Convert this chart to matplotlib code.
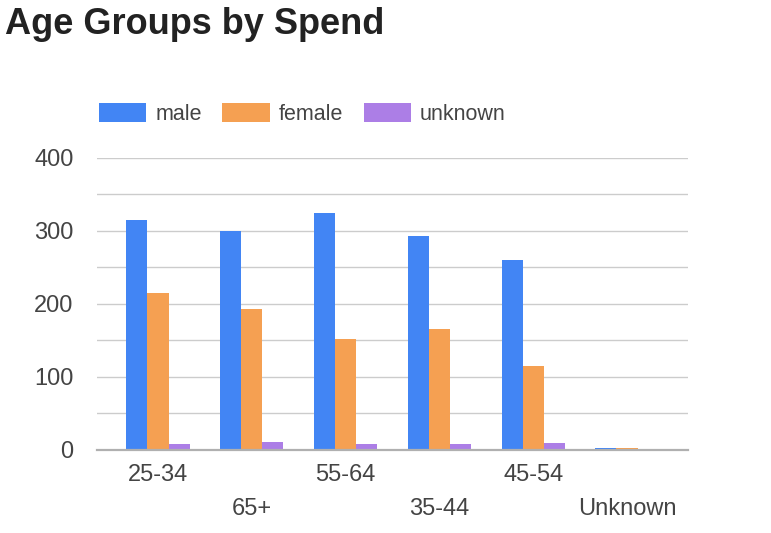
import numpy as np
import matplotlib
matplotlib.use("Agg")
import matplotlib.pyplot as plt

plt.rcParams['font.family'] = ['Liberation Sans', 'DejaVu Sans']

# 数据
groups = ['25-34', '65+', '55-64', '35-44', '45-54', 'Unknown']
male = [314, 299, 324, 292, 260, 2]
female = [215, 192, 152, 165, 115, 2]
unknown = [8, 10, 8, 8, 9, 0]
series = [('male', male, '#4285F4'), ('female', female, '#F5A052'), ('unknown', unknown, '#AC7EE6')]

fig = plt.figure(figsize=(7.71, 5.33), dpi=100)
ax = fig.add_axes([97 / 771, (533 - 449.5) / 533, (688 - 97) / 771, (449.5 - 157.5) / 533])

x = np.arange(len(groups))
w = 0.225
for k, (name, vals, col) in enumerate(series):
    ax.bar(x + (k - 1) * w, vals, w, color=col, label=name, linewidth=0, zorder=3)

ax.set_xlim(-0.65, len(groups) - 0.35)
ax.set_ylim(0, 400)
ax.set_yticks(range(0, 401, 100))
ax.set_yticks(range(0, 401, 50), minor=True)
ax.grid(axis='y', which='both', color='#cccccc', linewidth=1.0, zorder=0)

# x 标签交错两行
ax.set_xticks(x[::2], [groups[i] for i in x[::2]])
ax.set_xticks(x[1::2], [groups[i] for i in x[1::2]], minor=True)
ax.tick_params(axis='x', which='major', length=0, pad=10.5, labelsize=17, labelcolor='#444444')
ax.tick_params(axis='x', which='minor', length=0, pad=35, labelsize=17, labelcolor='#444444')
ax.tick_params(axis='y', which='both', length=0, pad=17, labelsize=17, labelcolor='#444444')

for s in ['top', 'right', 'left']:
    ax.spines[s].set_visible(False)
ax.spines['bottom'].set_color('#b0b0b0')
ax.spines['bottom'].set_linewidth(1.6)
ax.spines['bottom'].set_zorder(4)

fig.text(5 / 771, 1 - 34 / 533, 'Age Groups by Spend', fontsize=26, fontweight='bold',
         color='#222222', ha='left', va='baseline')

fig.legend(loc='center left', bbox_to_anchor=(99 / 771, 1 - 114 / 533), ncol=3, frameon=False,
           fontsize=15.5, labelcolor='#444444', handlelength=2.2, handleheight=1.0,
           handletextpad=0.42, columnspacing=0.95, borderpad=0, borderaxespad=0)

fig.savefig('out.png', dpi=100)
